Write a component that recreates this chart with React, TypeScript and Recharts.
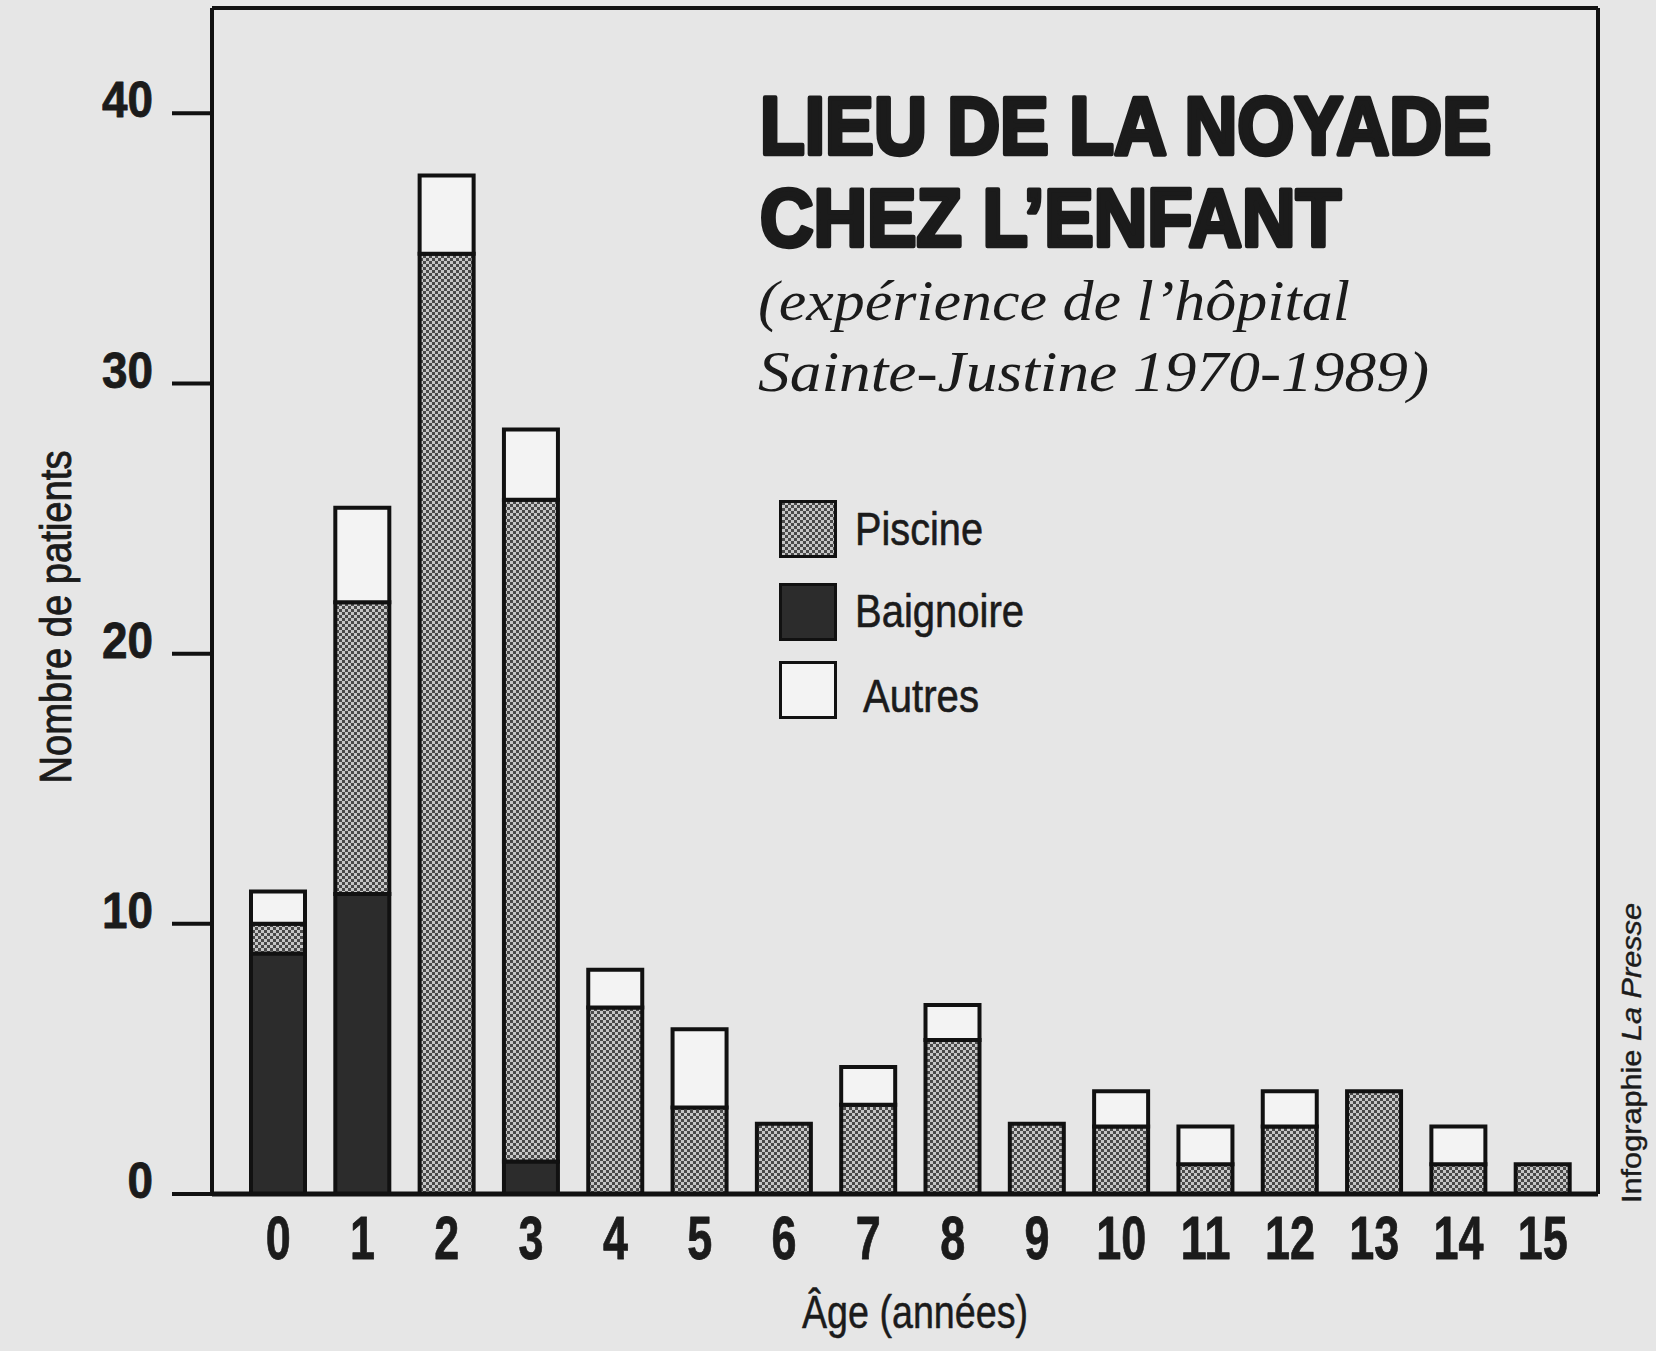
import React from 'react';
import { BarChart, Bar, XAxis, YAxis, ReferenceLine, Legend } from 'recharts';

// ---- data ----
const ages = ['0', '1', '2', '3', '4', '5', '6', '7', '8', '9', '10', '11', '12', '13', '14', '15'];
const baignoire = [8.9, 11.1, 0, 1.2, 0, 0, 0, 0, 0, 0, 0, 0, 0, 0, 0, 0];
const piscine = [1.1, 10.8, 34.8, 24.5, 6.9, 3.2, 2.6, 3.3, 5.7, 2.6, 2.5, 1.1, 2.5, 3.8, 1.1, 1.1];
const autres = [1.2, 3.5, 2.9, 2.6, 1.4, 2.9, 0, 1.4, 1.3, 0, 1.3, 1.4, 1.3, 0, 1.4, 0];
const yTicks = [0, 10, 20, 30, 40];
const legendNames = ['Piscine', 'Baignoire', 'Autres'];
const titleLines = ['LIEU DE LA NOYADE', 'CHEZ L\u2019ENFANT'];
const subtitleLines = ['(exp\u00e9rience de l\u2019h\u00f4pital', 'Sainte-Justine 1970-1989)'];

const data = ages.map((age, i) => ({
  age,
  Baignoire: baignoire[i],
  Piscine: piscine[i],
  Autres: autres[i],
}));

const SANS = "'Liberation Sans', Arial, sans-serif";
const SERIF = "'Liberation Serif', 'Times New Roman', serif";
const INK = '#1b1b1b';
const BG = '#e6e6e6';
const FILLS: Record<string, string> = {
  Piscine: 'url(#piscinePat)',
  Baignoire: '#2c2c2c',
  Autres: '#f3f3f3',
};

function FitText(props: any) {
  const { x, y, w, size, weight = 400, anchor = 'start', italic = false, family = SANS, fill = INK, stroke, strokeWidth, children } = props;
  const sx = anchor === 'end' ? x - w : anchor === 'middle' ? x - w / 2 : x;
  return (
    <text
      x={sx}
      y={y}
      fontSize={size}
      fontWeight={weight}
      fontFamily={family}
      fontStyle={italic ? 'italic' : 'normal'}
      fill={fill}
      stroke={stroke}
      strokeWidth={strokeWidth}
      strokeLinejoin="round"
      textLength={w}
      lengthAdjust="spacingAndGlyphs"
    >
      {children}
    </text>
  );
}

const XTick = (props: any) => {
  const { x, y, payload } = props;
  const s = String(payload.value);
  return (
    <FitText x={x} y={y + 65} w={s.length * 25} size={61} weight={700} anchor="middle" stroke={INK} strokeWidth={0.8}>
      {s}
    </FitText>
  );
};

const YTick = (props: any) => {
  const { x, y, payload } = props;
  const s = String(payload.value);
  return (
    <FitText x={x} y={y + 4} w={s.length * 25.5} size={50} weight={700} anchor="end" stroke={INK} strokeWidth={0.8}>
      {s}
    </FitText>
  );
};

const PatternDef = ({ id }: { id: string }) => (
  <pattern id={id} width={6} height={6} patternUnits="userSpaceOnUse">
    <rect width={6} height={6} fill="#c6c6c6" />
    <rect x={0} y={0} width={3} height={3} fill="#4a4a4a" />
    <rect x={3} y={3} width={3} height={3} fill="#4a4a4a" />
  </pattern>
);

const LegendContent = () => {
  const rows = [
    { name: legendNames[0], ry: 1, tx: 76, ty: 46, tw: 128 },
    { name: legendNames[1], ry: 84, tx: 76, ty: 128, tw: 169 },
    { name: legendNames[2], ry: 162, tx: 84, ty: 213, tw: 116 },
  ];
  return (
    <svg width={340} height={240} style={{ overflow: 'visible', display: 'block' }}>
      <defs>
        <PatternDef id="piscinePatLeg" />
      </defs>
      {rows.map((r) => (
        <g key={r.name}>
          <rect
            x={1.5}
            y={r.ry + 1.5}
            width={55}
            height={55}
            fill={r.name === 'Piscine' ? 'url(#piscinePatLeg)' : FILLS[r.name]}
            stroke="#111"
            strokeWidth={3}
          />
          <FitText x={r.tx} y={r.ty} w={r.tw} size={46} stroke={INK} strokeWidth={0.6}>
            {r.name}
          </FitText>
        </g>
      ))}
    </svg>
  );
};

export default function App() {
  return (
    <div style={{ position: 'absolute', left: 0, top: 0, width: 1656, height: 1351, background: BG }}>
      <BarChart
        width={1656}
        height={1351}
        data={data}
        margin={{ top: 8, right: 57, bottom: 0, left: 0 }}
        barSize={54}
      >
        <defs>
          <PatternDef id="piscinePat" />
        </defs>
        <XAxis
          dataKey="age"
          height={157}
          padding={{ left: 24, right: 13 }}
          axisLine={{ stroke: '#111', strokeWidth: 5 }}
          tickLine={false}
          tickSize={0}
          tickMargin={0}
          interval={0}
          tick={<XTick />}
        />
        <YAxis
          yAxisId="l"
          width={212}
          domain={[0, 43.9]}
          allowDataOverflow
          ticks={yTicks}
          interval={0}
          tickSize={40}
          tickMargin={19}
          axisLine={{ stroke: '#111', strokeWidth: 4 }}
          tickLine={{ stroke: '#111', strokeWidth: 4 }}
          tick={<YTick />}
        />
        <YAxis
          yAxisId="r"
          orientation="right"
          width={1}
          domain={[0, 43.9]}
          allowDataOverflow
          tick={false}
          tickLine={false}
          axisLine={{ stroke: '#111', strokeWidth: 4 }}
        />
        <ReferenceLine yAxisId="l" y={43.9} stroke="#111" strokeWidth={4} />
        <Legend
          layout="horizontal"
          verticalAlign="middle"
          align="center"
          content={<LegendContent />}
          wrapperStyle={{ position: 'absolute', left: 779, top: 499, width: 340, height: 240 }}
        />
        <Bar yAxisId="l" dataKey="Baignoire" stackId="s" fill={FILLS.Baignoire} stroke="#111" strokeWidth={4} isAnimationActive={false} />
        <Bar yAxisId="l" dataKey="Piscine" stackId="s" fill={FILLS.Piscine} stroke="#111" strokeWidth={4} isAnimationActive={false} />
        <Bar yAxisId="l" dataKey="Autres" stackId="s" fill={FILLS.Autres} stroke="#111" strokeWidth={4} isAnimationActive={false} />

        {/* title */}
        <FitText x={760} y={154} w={731} size={82} weight={700} stroke={INK} strokeWidth={4.5}>{titleLines[0]}</FitText>
        <FitText x={760} y={246} w={581} size={82} weight={700} stroke={INK} strokeWidth={4.5}>{titleLines[1]}</FitText>
        {/* subtitle */}
        <FitText x={758} y={320} w={592} size={58} italic family={SERIF}>{subtitleLines[0]}</FitText>
        <FitText x={758} y={391} w={671} size={58} italic family={SERIF}>{subtitleLines[1]}</FitText>

        {/* axis titles */}
        <FitText x={802} y={1328} w={226} size={46} stroke={INK} strokeWidth={0.5}>{'\u00c2ge (ann\u00e9es)'}</FitText>
        <g transform="translate(71, 617) rotate(-90)">
          <FitText x={0} y={0} w={333} size={44} anchor="middle" stroke={INK} strokeWidth={0.9}>Nombre de patients</FitText>
        </g>
        <g transform="translate(1641, 1053) rotate(-90)">
          <text
            x={-150}
            y={0}
            fontSize={28}
            fontFamily={SANS}
            fill={INK}
            stroke={INK}
            strokeWidth={0.4}
            textLength={300}
            lengthAdjust="spacingAndGlyphs"
          >
            Infographie <tspan fontStyle="italic">La Presse</tspan>
          </text>
        </g>
      </BarChart>
    </div>
  );
}
